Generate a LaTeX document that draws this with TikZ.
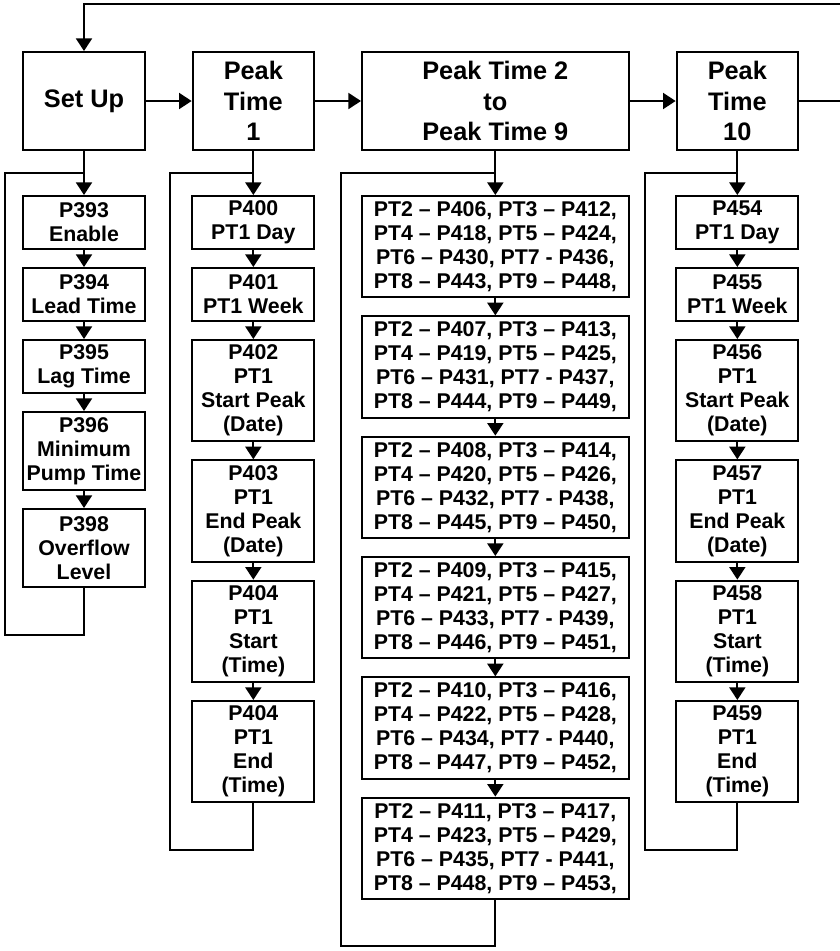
\documentclass[tikz,border=0pt]{standalone}
\usepackage{fontspec}
\setmainfont{Liberation Sans}
\usetikzlibrary{arrows.meta, positioning}

\begin{document}
\begin{tikzpicture}[
    x=0.75pt, y=-0.75pt,
    >={Triangle[length=9.5pt, width=12pt]},
    line width=1.5pt,
    node distance=12.75pt,
    stage/.style={draw, rectangle, minimum width=91pt, minimum height=73.5pt, inner sep=1pt, align=center, font=\bfseries\fontsize{19}{23}\selectfont},
    param/.style={draw, rectangle, minimum width=91.5pt, inner sep=1pt, align=center, font=\bfseries\fontsize{16}{18}\selectfont},
    paramtwo/.style={param, minimum height=39.75pt},
    paramthree/.style={param, minimum height=58.5pt},
    paramfour/.style={param, minimum height=76pt},
    rangebox/.style={paramfour, minimum width=200pt}
]
\useasboundingbox (0,0) rectangle (840,951);

% Stages
\node[stage] (setup) at (84,101) {Set Up};
\node[stage, right=34.5pt of setup] (pt1) {Peak\\Time\\1};
\node[stage, right=34.5pt of pt1, minimum width=200pt] (pt29) {Peak Time 2\\to\\Peak Time 9};
\node[stage, right=34.5pt of pt29] (pt10) {Peak\\Time\\10};

\draw[->] (setup) -- (pt1);
\draw[->] (pt1) -- (pt29);
\draw[->] (pt29) -- (pt10);
\coordinate (back) at (880,4);
\draw[->] (pt10.east) -| (back) -| (setup.north);

% Set Up parameters
\node[paramtwo, below=33pt of setup] (p393) {P393\\Enable};
\node[paramtwo, below=of p393] (p394) {P394\\Lead Time};
\node[paramtwo, below=of p394] (p395) {P395\\Lag Time};
\node[paramthree, below=of p395] (p396) {P396\\Minimum\\Pump Time};
\node[paramthree, below=of p396] (p398) {P398\\Overflow\\Level};

\draw[->] (setup) -- (p393);
\draw[->] (p393) -- (p394);
\draw[->] (p394) -- (p395);
\draw[->] (p395) -- (p396);
\draw[->] (p396) -- (p398);
\coordinate (suturn) at (5,173);
\draw (p398.south) -- ++(0,47) -| (suturn) -- (suturn -| setup.south);

% Peak Time 1 parameters
\node[paramtwo, below=33pt of pt1] (p400) {P400\\PT1 Day};
\node[paramtwo, below=of p400] (p401) {P401\\PT1 Week};
\node[paramfour, below=of p401] (p402) {P402\\PT1\\Start Peak\\(Date)};
\node[paramfour, below=of p402] (p403) {P403\\PT1\\End Peak\\(Date)};
\node[paramfour, below=of p403] (p404) {P404\\PT1\\Start\\(Time)};
\node[paramfour, below=of p404] (p404e) {P404\\PT1\\End\\(Time)};

\draw[->] (pt1) -- (p400);
\draw[->] (p400) -- (p401);
\draw[->] (p401) -- (p402);
\draw[->] (p402) -- (p403);
\draw[->] (p403) -- (p404);
\draw[->] (p404) -- (p404e);
\coordinate (ptaturn) at (170,173);
\draw (p404e.south) -- ++(0,47) -| (ptaturn) -- (ptaturn -| pt1.south);

% Peak Time 2 to 9 parameters
\node[rangebox, below=33pt of pt29] (r406) {PT2 – P406, PT3 – P412,\\PT4 – P418, PT5 – P424,\\PT6 – P430, PT7 - P436,\\PT8 – P443, PT9 – P448,};
\node[rangebox, below=of r406] (r407) {PT2 – P407, PT3 – P413,\\PT4 – P419, PT5 – P425,\\PT6 – P431, PT7 - P437,\\PT8 – P444, PT9 – P449,};
\node[rangebox, below=of r407] (r408) {PT2 – P408, PT3 – P414,\\PT4 – P420, PT5 – P426,\\PT6 – P432, PT7 - P438,\\PT8 – P445, PT9 – P450,};
\node[rangebox, below=of r408] (r409) {PT2 – P409, PT3 – P415,\\PT4 – P421, PT5 – P427,\\PT6 – P433, PT7 - P439,\\PT8 – P446, PT9 – P451,};
\node[rangebox, below=of r409] (r410) {PT2 – P410, PT3 – P416,\\PT4 – P422, PT5 – P428,\\PT6 – P434, PT7 - P440,\\PT8 – P447, PT9 – P452,};
\node[rangebox, below=of r410] (r411) {PT2 – P411, PT3 – P417,\\PT4 – P423, PT5 – P429,\\PT6 – P435, PT7 - P441,\\PT8 – P448, PT9 – P453,};

\draw[->] (pt29) -- (r406);
\draw[->] (r406) -- (r407);
\draw[->] (r407) -- (r408);
\draw[->] (r408) -- (r409);
\draw[->] (r409) -- (r410);
\draw[->] (r410) -- (r411);
\coordinate (ptbturn) at (341,173);
\draw (r411.south) -- ++(0,46) -| (ptbturn) -- (ptbturn -| pt29.south);

% Peak Time 10 parameters
\node[paramtwo, below=33pt of pt10] (p454) {P454\\PT1 Day};
\node[paramtwo, below=of p454] (p455) {P455\\PT1 Week};
\node[paramfour, below=of p455] (p456) {P456\\PT1\\Start Peak\\(Date)};
\node[paramfour, below=of p456] (p457) {P457\\PT1\\End Peak\\(Date)};
\node[paramfour, below=of p457] (p458) {P458\\PT1\\Start\\(Time)};
\node[paramfour, below=of p458] (p459) {P459\\PT1\\End\\(Time)};

\draw[->] (pt10) -- (p454);
\draw[->] (p454) -- (p455);
\draw[->] (p455) -- (p456);
\draw[->] (p456) -- (p457);
\draw[->] (p457) -- (p458);
\draw[->] (p458) -- (p459);
\coordinate (ptcturn) at (645,173);
\draw (p459.south) -- ++(0,47) -| (ptcturn) -- (ptcturn -| pt10.south);

\end{tikzpicture}
\end{document}
